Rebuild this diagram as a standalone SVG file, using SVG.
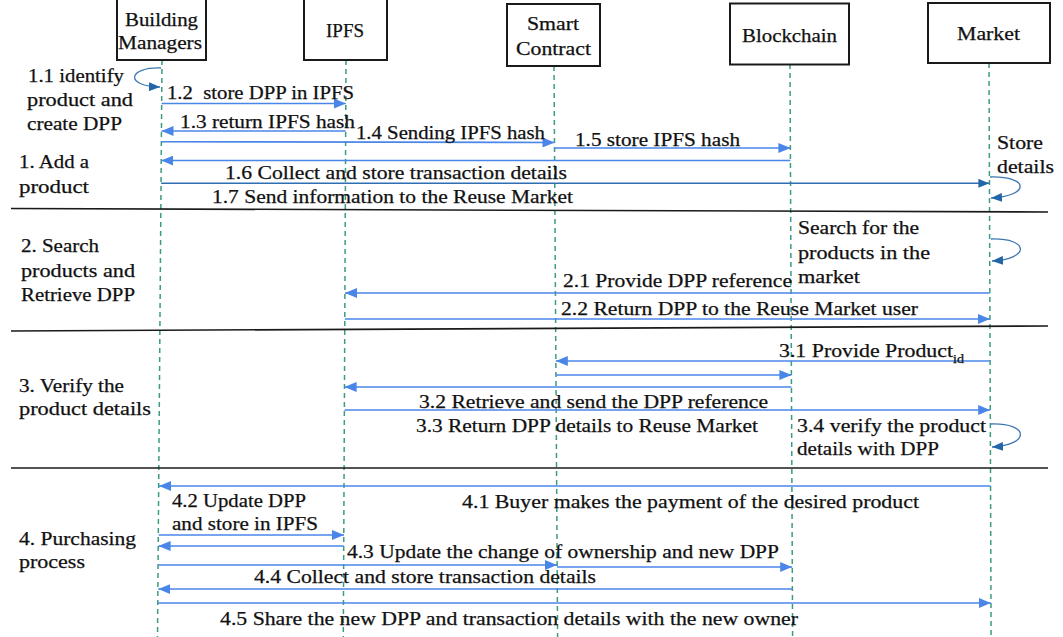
<svg xmlns="http://www.w3.org/2000/svg" width="1063" height="637" viewBox="0 0 1063 637">
<defs>
<style>
.box{fill:#fff;stroke:#1a1a1a;stroke-width:2}
.ll{stroke:#3a9c80;stroke-width:1.5;stroke-dasharray:5 4;fill:none}
.msg{stroke:#4a86e8;stroke-width:1.6;fill:none}
.msgd{stroke:#2e6fb3;stroke-width:1.6;fill:none}
.loop{stroke:#3d78b0;stroke-width:1.3;fill:none}
.sep{stroke:#1a1a1a;stroke-width:1.6}
text{font-family:"Liberation Serif","Times New Roman",serif;font-size:19px;fill:#111;stroke:#111;stroke-width:0.25}
.sub{font-size:13px}
</style>
<marker id="ah" viewBox="0 0 12 10" refX="12" refY="5" markerWidth="12" markerHeight="10" markerUnits="userSpaceOnUse" orient="auto"><path d="M0,0 L12,5 L0,10 z" fill="#4a86e8"/></marker>
<marker id="ahd" viewBox="0 0 11 9" refX="11" refY="4.5" markerWidth="11" markerHeight="9" markerUnits="userSpaceOnUse" orient="auto"><path d="M0,0 L11,4.5 L0,9 z" fill="#2366a8"/></marker>
</defs>
<rect x="0" y="0" width="1063" height="637" fill="#fff"/>

<g id="lifelines">
<line class="ll" x1="162" y1="60" x2="157.5" y2="637"/>
<line class="ll" x1="346" y1="60" x2="343.3" y2="637"/>
<line class="ll" x1="554" y1="66" x2="557.6" y2="637"/>
<line class="ll" x1="790" y1="64" x2="792.6" y2="637"/>
<line class="ll" x1="989" y1="63" x2="991.1" y2="637"/>
</g>

<g id="separators">
<line class="sep" x1="11" y1="208.5" x2="1048" y2="212"/>
<line class="sep" x1="11" y1="331" x2="1048" y2="326"/>
<line class="sep" x1="11" y1="468" x2="1048" y2="468"/>
</g>

<g id="node-building-managers">
<rect class="box" x="117" y="-2" width="89" height="62"/>
<text x="125" y="26" textLength="73" lengthAdjust="spacingAndGlyphs">Building</text>
<text x="118" y="49" textLength="84" lengthAdjust="spacingAndGlyphs">Managers</text>
</g>
<g id="node-ipfs">
<rect class="box" x="304" y="-2" width="83" height="62"/>
<text x="326" y="37" textLength="38" lengthAdjust="spacingAndGlyphs">IPFS</text>
</g>
<g id="node-smart-contract">
<rect class="box" x="507" y="4" width="93" height="62"/>
<text x="527" y="30" textLength="52" lengthAdjust="spacingAndGlyphs">Smart</text>
<text x="516" y="55" textLength="75" lengthAdjust="spacingAndGlyphs">Contract</text>
</g>
<g id="node-blockchain">
<rect class="box" x="730" y="3.5" width="119" height="61"/>
<text x="742" y="42" textLength="95" lengthAdjust="spacingAndGlyphs">Blockchain</text>
</g>
<g id="node-market">
<rect class="box" x="928" y="3" width="122" height="60"/>
<text x="957" y="40" textLength="63" lengthAdjust="spacingAndGlyphs">Market</text>
</g>

<g id="connectors">
<path class="loop" d="M161,68 C128,67 124,86 160,87" marker-end="url(#ahd)"/>
<line class="msg" x1="161.7" y1="103.5" x2="345.8" y2="103.5" marker-end="url(#ah)"/>
<line class="msg" x1="345.7" y1="131" x2="161.5" y2="131" marker-end="url(#ah)"/>
<line class="msg" x1="161.4" y1="141.7" x2="554.5" y2="142.5" marker-end="url(#ah)"/>
<line class="msg" x1="554.5" y1="148" x2="790.4" y2="148" marker-end="url(#ah)"/>
<line class="msg" x1="790.4" y1="160.5" x2="161.3" y2="160.5" marker-end="url(#ah)"/>
<line class="msgd" x1="161.1" y1="183.3" x2="989.4" y2="183.3" marker-end="url(#ahd)"/>
<path class="loop" d="M990,177 C1030,176 1030,196 991,198" marker-end="url(#ahd)"/>

<path class="loop" d="M991,239 C1030,238 1030,259 992,261" marker-end="url(#ahd)"/>
<line class="msg" x1="989.8" y1="293" x2="345" y2="293" marker-end="url(#ah)"/>
<line class="msg" x1="344.9" y1="319" x2="989.9" y2="319" marker-end="url(#ah)"/>

<line class="msg" x1="990" y1="361" x2="555.8" y2="361" marker-end="url(#ah)"/>
<line class="msg" x1="555.9" y1="375" x2="791.4" y2="375" marker-end="url(#ah)"/>
<line class="msg" x1="791.4" y1="387" x2="344.6" y2="387" marker-end="url(#ah)"/>
<line class="msg" x1="344.5" y1="410" x2="990.2" y2="410" marker-end="url(#ah)"/>
<path class="loop" d="M991,424 C1030,423 1030,445 992,447" marker-end="url(#ahd)"/>

<line class="msg" x1="990.5" y1="486" x2="159" y2="486" marker-end="url(#ah)"/>
<line class="msg" x1="158.7" y1="535" x2="344" y2="535" marker-end="url(#ah)"/>
<line class="msg" x1="343.9" y1="546" x2="158.6" y2="546" marker-end="url(#ah)"/>
<line class="msg" x1="158.4" y1="565" x2="557" y2="565" marker-end="url(#ah)"/>
<line class="msg" x1="557" y1="567" x2="792.2" y2="567" marker-end="url(#ah)"/>
<line class="msg" x1="792.3" y1="589" x2="158.3" y2="589" marker-end="url(#ah)"/>
<line class="msg" x1="158.2" y1="603" x2="990.8" y2="603" marker-end="url(#ah)"/>
</g>

<g id="labels">
<text x="28" y="82" textLength="96" lengthAdjust="spacingAndGlyphs">1.1 identify</text>
<text x="27" y="106" textLength="106" lengthAdjust="spacingAndGlyphs">product and</text>
<text x="27" y="130" textLength="95" lengthAdjust="spacingAndGlyphs">create DPP</text>
<text x="167" y="98.5" textLength="187" lengthAdjust="spacingAndGlyphs">1.2&#160; store DPP in IPFS</text>
<text x="180" y="127.5" textLength="175" lengthAdjust="spacingAndGlyphs">1.3 return IPFS hash</text>
<text x="356" y="139" textLength="189" lengthAdjust="spacingAndGlyphs">1.4 Sending IPFS hash</text>
<text x="575" y="146" textLength="165" lengthAdjust="spacingAndGlyphs">1.5 store IPFS hash</text>
<text x="225" y="178.5" textLength="342" lengthAdjust="spacingAndGlyphs">1.6 Collect and store transaction details</text>
<text x="212" y="202.5" textLength="361" lengthAdjust="spacingAndGlyphs">1.7 Send information to the Reuse Market</text>
<text x="19" y="168" textLength="70" lengthAdjust="spacingAndGlyphs">1. Add a</text>
<text x="19" y="193" textLength="70" lengthAdjust="spacingAndGlyphs">product</text>
<text x="997" y="149" textLength="46" lengthAdjust="spacingAndGlyphs">Store</text>
<text x="997" y="173" textLength="57" lengthAdjust="spacingAndGlyphs">details</text>

<text x="21" y="252" textLength="78" lengthAdjust="spacingAndGlyphs">2. Search</text>
<text x="21" y="277" textLength="114" lengthAdjust="spacingAndGlyphs">products and</text>
<text x="21" y="301" textLength="114" lengthAdjust="spacingAndGlyphs">Retrieve DPP</text>
<text x="798" y="234" textLength="121" lengthAdjust="spacingAndGlyphs">Search for the</text>
<text x="798" y="259" textLength="132" lengthAdjust="spacingAndGlyphs">products in the</text>
<text x="798" y="283" textLength="62" lengthAdjust="spacingAndGlyphs">market</text>
<text x="563" y="287" textLength="229" lengthAdjust="spacingAndGlyphs">2.1 Provide DPP reference</text>
<text x="561" y="315" textLength="357" lengthAdjust="spacingAndGlyphs">2.2 Return DPP to the Reuse Market user</text>

<text x="779" y="357" textLength="174" lengthAdjust="spacingAndGlyphs">3.1 Provide Product</text>
<text class="sub" x="953" y="363" textLength="11" lengthAdjust="spacingAndGlyphs">id</text>
<text x="419" y="408" textLength="349" lengthAdjust="spacingAndGlyphs">3.2 Retrieve and send the DPP reference</text>
<text x="416" y="432" textLength="342" lengthAdjust="spacingAndGlyphs">3.3 Return DPP details to Reuse Market</text>
<text x="797" y="432" textLength="189" lengthAdjust="spacingAndGlyphs">3.4 verify the product</text>
<text x="797" y="455" textLength="142" lengthAdjust="spacingAndGlyphs">details with DPP</text>
<text x="19" y="392" textLength="105" lengthAdjust="spacingAndGlyphs">3. Verify the</text>
<text x="19" y="415" textLength="132" lengthAdjust="spacingAndGlyphs">product details</text>

<text x="462" y="508" textLength="457" lengthAdjust="spacingAndGlyphs">4.1 Buyer makes the payment of the desired product</text>
<text x="172" y="507" textLength="134" lengthAdjust="spacingAndGlyphs">4.2 Update DPP</text>
<text x="172" y="530" textLength="146" lengthAdjust="spacingAndGlyphs">and store in IPFS</text>
<text x="347" y="558" textLength="432" lengthAdjust="spacingAndGlyphs">4.3 Update the change of ownership and new DPP</text>
<text x="254" y="583" textLength="342" lengthAdjust="spacingAndGlyphs">4.4 Collect and store transaction details</text>
<text x="220" y="625" textLength="578" lengthAdjust="spacingAndGlyphs">4.5 Share the new DPP and transaction details with the new owner</text>
<text x="19" y="545" textLength="117" lengthAdjust="spacingAndGlyphs">4. Purchasing</text>
<text x="19" y="568" textLength="66" lengthAdjust="spacingAndGlyphs">process</text>
</g>
</svg>
